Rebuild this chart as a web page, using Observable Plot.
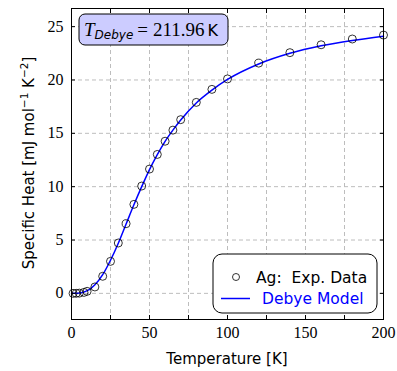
<!DOCTYPE html>
<html><head><meta charset="utf-8">
<script src="https://cdn.jsdelivr.net/npm/d3@7"></script>
<script src="https://cdn.jsdelivr.net/npm/@observablehq/plot@0.6"></script>
<style>body{margin:0;background:#fff}</style>
</head><body><div id="chart"></div>
<script>
// Experimental data (Ag)
const expT = [1, 3, 5, 8, 10, 15, 20, 25, 30, 35, 40, 45, 50, 55, 60, 65, 70, 80, 90, 100, 120, 140, 160, 180, 200];
const expC = [0.0, 0.004, 0.02, 0.09, 0.19, 0.6, 1.6, 3.0, 4.72, 6.53, 8.34, 10.06, 11.65, 13.02, 14.26, 15.3, 16.28, 17.9, 19.12, 20.1, 21.58, 22.56, 23.3, 23.84, 24.21];
// Debye model curve
const modelT = [0, 2, 4, 6, 8, 10, 12, 15, 20, 25, 30, 35, 40, 45, 50, 55, 60, 65, 70, 80, 90, 100, 120, 140, 160, 180, 200];
const modelC = [0, 0.002, 0.016, 0.055, 0.13, 0.25, 0.42, 0.8, 1.75, 3.1, 4.7, 6.5, 8.3, 10.0, 11.6, 13.0, 14.25, 15.3, 16.25, 17.85, 19.05, 20.05, 21.5, 22.5, 23.2, 23.7, 24.1];
const xTickLabels = [0, 50, 100, 150, 200];
const xTickAll = [0, 25, 50, 75, 100, 125, 150, 175, 200];
const yTickLabels = [0, 5, 10, 15, 20, 25];
const xGridVals = [25, 50, 75, 100, 125, 150, 175];

const expData = expT.map((t, i) => ({t, c: expC[i]}));
const modelData = modelT.map((t, i) => ({t, c: modelC[i]}));

const serif = "'Liberation Serif', 'DejaVu Serif', serif";
const sans = "'DejaVu Sans', 'Liberation Sans', sans-serif";
const blank = () => "";

const chart = Plot.plot({
  width: 397, height: 371,
  marginLeft: 71, marginRight: 14, marginTop: 8, marginBottom: 52,
  x: {domain: [0, 200], label: null},
  y: {domain: [-2.45, 26.7], label: null},
  style: {fontFamily: serif, fontSize: "16px", background: "#fff", color: "#000"},
  marks: [
    Plot.ruleX(xGridVals, {stroke: "#bdbdbd", strokeWidth: 1, strokeDasharray: "4,3"}),
    Plot.ruleY(yTickLabels, {stroke: "#bdbdbd", strokeWidth: 1, strokeDasharray: "4,3"}),
    Plot.line(modelData, {x: "t", y: "c", stroke: "#0000ff", strokeWidth: 1.5, curve: "monotone-x"}),
    Plot.dot(expData, {x: "t", y: "c", r: 4, stroke: "#000", strokeWidth: 0.8, fill: "none"}),
    Plot.axisX({anchor: "bottom", ticks: xTickAll, tickSize: -4, tickFormat: blank, label: null}),
    Plot.axisX({anchor: "top", ticks: xTickAll, tickSize: -4, tickFormat: blank, label: null}),
    Plot.axisY({anchor: "left", ticks: yTickLabels, tickSize: -4, tickFormat: blank, label: null}),
    Plot.axisY({anchor: "right", ticks: yTickLabels, tickSize: -4, tickFormat: blank, label: null}),
    Plot.axisX({anchor: "bottom", ticks: xTickLabels, tickSize: 0, tickPadding: 7, label: null, fontSize: 16, fontFamily: serif}),
    Plot.axisY({anchor: "left", ticks: yTickLabels, tickSize: 0, tickPadding: 8, label: null, fontSize: 16, fontFamily: serif}),
    Plot.frame({stroke: "#000", strokeWidth: 1})
  ]
});
document.getElementById("chart").appendChild(chart);

const svg = d3.select(chart);
// Axis labels
svg.append("text").attr("x", 227).attr("y", 364).attr("text-anchor", "middle")
  .attr("font-family", sans).attr("font-size", 15).attr("fill", "#000").text("Temperature [K]");
const yl = svg.append("text").attr("transform", "translate(34,163) rotate(-90)").attr("text-anchor", "middle")
  .attr("font-family", sans).attr("font-size", 15).attr("fill", "#000");
yl.append("tspan").text("Specific Heat [mJ mol");
yl.append("tspan").attr("font-size", 10.5).attr("dy", -6).text("−1");
yl.append("tspan").attr("dy", 6).text(" K");
yl.append("tspan").attr("font-size", 10.5).attr("dy", -6).text("−2");
yl.append("tspan").attr("dy", 6).text("]");

// Annotation box
svg.append("rect").attr("x", 79).attr("y", 14).attr("width", 149).attr("height", 31).attr("rx", 6)
  .attr("fill", "#ccccff").attr("stroke", "#000").attr("stroke-width", 1);
const ann = svg.append("text").attr("x", 84).attr("y", 36).attr("text-anchor", "start").attr("fill", "#000");
ann.append("tspan").attr("font-family", serif).attr("font-style", "italic").attr("font-size", 19).text("T");
ann.append("tspan").attr("font-family", sans).attr("font-style", "italic").attr("font-size", 12).attr("dy", 3).text("Debye");
ann.append("tspan").attr("font-family", serif).attr("font-size", 19).attr("dy", -3).attr("dx", 4).text("=");
ann.append("tspan").attr("font-family", serif).attr("font-size", 19).attr("dx", 5).text("211.96");
ann.append("tspan").attr("font-family", sans).attr("font-size", 16).attr("dx", 3).text("K");

// Legend
svg.append("rect").attr("x", 213).attr("y", 254).attr("width", 164).attr("height", 59).attr("rx", 9)
  .attr("fill", "#fff").attr("stroke", "#000").attr("stroke-width", 1);
svg.append("circle").attr("cx", 236).attr("cy", 277).attr("r", 3.5).attr("fill", "none").attr("stroke", "#000").attr("stroke-width", 0.8);
svg.append("text").attr("x", 256).attr("y", 283).attr("text-anchor", "start").attr("font-family", sans).attr("font-size", 15.5).attr("fill", "#000").text("Ag:  Exp. Data");
svg.append("line").attr("x1", 221).attr("x2", 250).attr("y1", 298.5).attr("y2", 298.5).attr("stroke", "#0000ff").attr("stroke-width", 1.5);
svg.append("text").attr("x", 262).attr("y", 304).attr("text-anchor", "start").attr("font-family", sans).attr("font-size", 15.5).attr("fill", "#0000ff").text("Debye Model");
</script>
</body></html>
